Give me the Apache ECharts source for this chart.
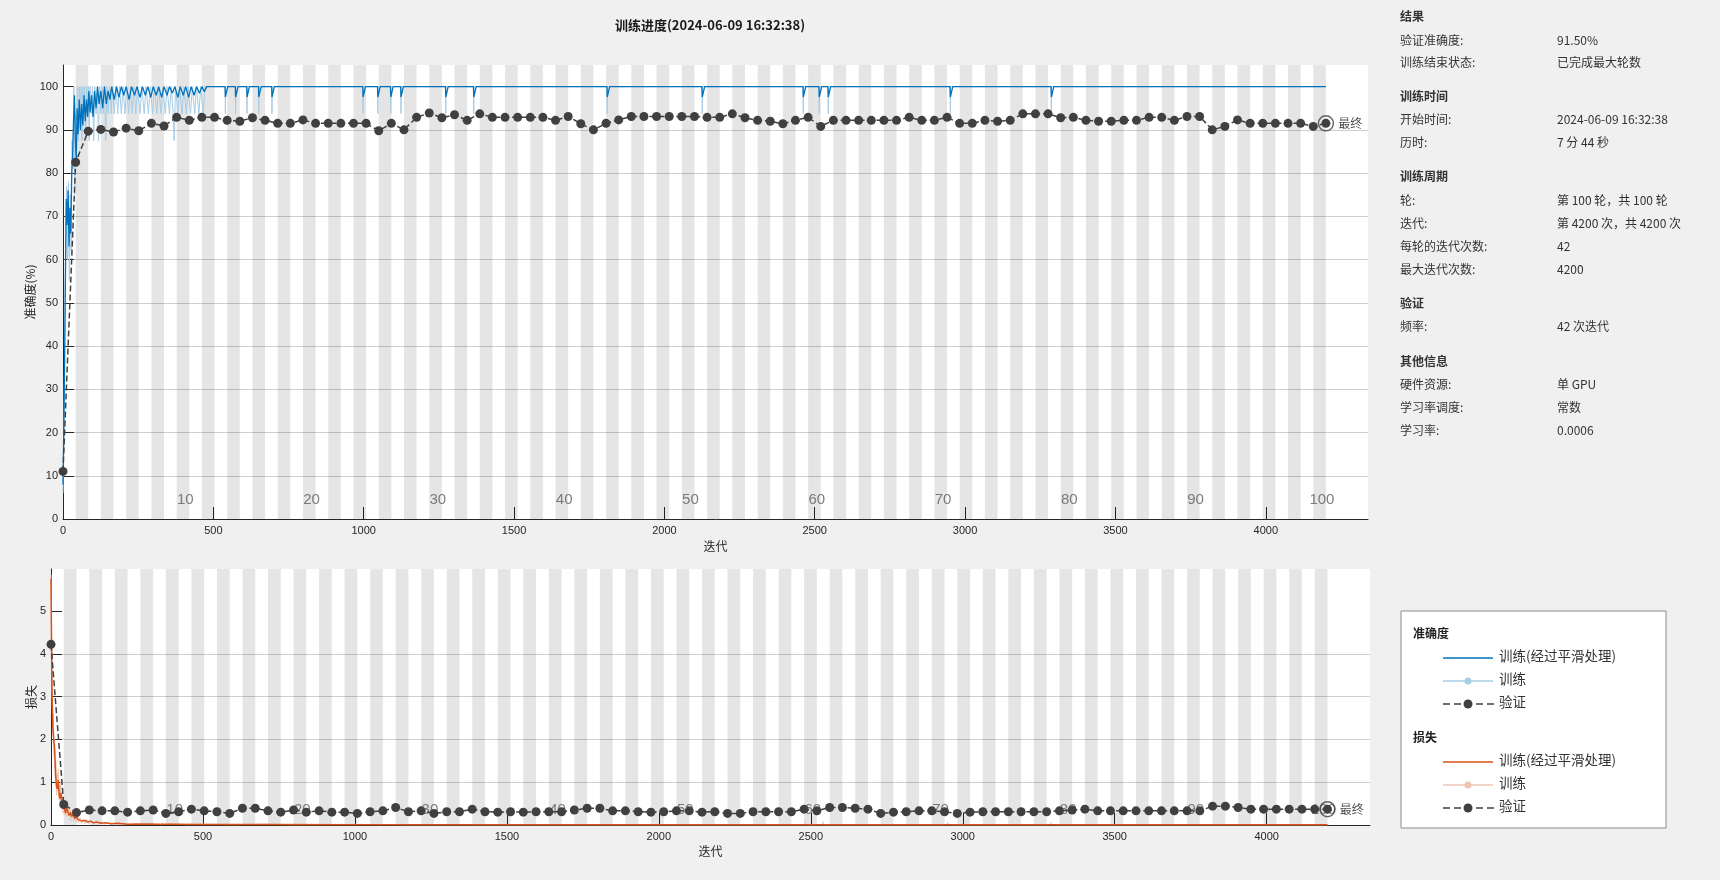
<!DOCTYPE html>
<html>
<head>
<meta charset="utf-8">
<title>训练进度</title>
<script src="https://cdn.jsdelivr.net/npm/echarts@6/dist/echarts.min.js"></script>
<style>
  html, body { margin: 0; padding: 0; background: #f0f0f0; }
  #main { width: 1720px; height: 880px; }
</style>
</head>
<body>
<div id="main"></div>
<script>
// 每轮迭代次数 / 轮数
const itersPerEpoch = 42
const epochCount = 100
const epochTicks = [10, 20, 30, 40, 50, 60, 70, 80, 90, 100]
const iterTicks = [0, 500, 1000, 1500, 2000, 2500, 3000, 3500, 4000]
const accTicks = [0, 10, 20, 30, 40, 50, 60, 70, 80, 90, 100]
const lossTicks = [0, 1, 2, 3, 4, 5]

// 验证准确度 (第 0..100 轮)
const valAcc = [11, 82.5, 89.7, 90.1, 89.5, 90.4, 89.8, 91.5, 90.9, 92.9,
  92.2, 92.9, 92.9, 92.2, 92.0, 92.8, 92.2, 91.5, 91.5, 92.3,
  91.5, 91.5, 91.5, 91.5, 91.5, 89.8, 91.5, 90.0, 92.9, 93.9,
  92.8, 93.5, 92.2, 93.7, 92.9, 92.9, 92.9, 92.9, 92.9, 92.2,
  93.1, 91.4, 90.0, 91.5, 92.3, 93.1, 93.1, 93.1, 93.1, 93.1,
  93.1, 92.9, 92.9, 93.7, 92.8, 92.2, 92.0, 91.4, 92.2, 92.9,
  90.8, 92.2, 92.2, 92.2, 92.2, 92.2, 92.2, 92.9, 92.2, 92.2,
  92.9, 91.5, 91.5, 92.2, 92.0, 92.2, 93.7, 93.7, 93.7, 92.8,
  92.9, 92.2, 92.0, 92.0, 92.2, 92.2, 92.9, 92.9, 92.2, 93.1,
  93.1, 90.0, 90.8, 92.3, 91.5, 91.5, 91.5, 91.5, 91.5, 90.8, 91.5]

// 验证损失 (第 0..100 轮)
const valLoss = [4.22, 0.48, 0.29, 0.35, 0.33, 0.33, 0.30, 0.33, 0.35, 0.27,
  0.31, 0.37, 0.33, 0.31, 0.27, 0.39, 0.39, 0.33, 0.30, 0.35,
  0.30, 0.33, 0.30, 0.30, 0.27, 0.31, 0.33, 0.41, 0.31, 0.33,
  0.27, 0.31, 0.31, 0.37, 0.31, 0.30, 0.31, 0.30, 0.31, 0.31,
  0.31, 0.35, 0.39, 0.39, 0.33, 0.33, 0.31, 0.30, 0.31, 0.33,
  0.33, 0.30, 0.31, 0.27, 0.27, 0.31, 0.31, 0.31, 0.31, 0.37,
  0.33, 0.41, 0.41, 0.39, 0.37, 0.27, 0.30, 0.31, 0.33, 0.33,
  0.31, 0.27, 0.30, 0.31, 0.31, 0.31, 0.31, 0.31, 0.31, 0.33,
  0.35, 0.37, 0.33, 0.33, 0.33, 0.33, 0.33, 0.33, 0.33, 0.33,
  0.33, 0.44, 0.44, 0.41, 0.37, 0.37, 0.37, 0.37, 0.37, 0.37, 0.37]

// 训练准确度(经过平滑处理) [迭代, 值]
const accSmooth = [[0, 8], [4, 28], [8, 55], [11, 74], [14, 68], [17, 76], [20, 63], [23, 72], [26, 66],
  [29, 80], [32, 84], [35, 92], [38, 98], [41, 88], [44, 83], [47, 95], [50, 89], [54, 97], [58, 90],
  [62, 96], [66, 91], [70, 98], [74, 92], [78, 97], [82, 93], [86, 99], [90, 94], [95, 98], [100, 93],
  [105, 99], [110, 95], [115, 100], [120, 96], [126, 99], [132, 95], [138, 100], [144, 96], [150, 99],
  [156, 97], [162, 100], [170, 97], [178, 100], [186, 97.5], [194, 100], [202, 98], [210, 100],
  [220, 97], [228, 100], [238, 98], [246, 100], [256, 97.5], [264, 100], [274, 98], [282, 100],
  [292, 97.5], [300, 100], [310, 98], [318, 100], [328, 97.5], [336, 100], [346, 98], [354, 100],
  [364, 98.5], [372, 100], [382, 97.5], [390, 100], [400, 98], [408, 100], [418, 97.5], [426, 100],
  [436, 98], [444, 100], [454, 98.5], [462, 100], [470, 98.8], [478, 100],
  [539, 100], [540, 97.6], [548, 100], [573, 100], [574, 97.6], [582, 100],
  [611, 100], [612, 97.6], [620, 100], [650, 100], [651, 97.6], [659, 100],
  [694, 100], [695, 97.6], [703, 100], [997, 100], [998, 97.6], [1006, 100],
  [1046, 100], [1047, 97.6], [1055, 100], [1089, 100], [1090, 97.6], [1098, 100],
  [1123, 100], [1124, 97.6], [1132, 100], [1272, 100], [1273, 97.6], [1281, 100],
  [1365, 100], [1366, 97.6], [1374, 100], [1809, 100], [1810, 97.6], [1818, 100],
  [2125, 100], [2126, 97.6], [2134, 100], [2461, 100], [2462, 97.6], [2470, 100],
  [2514, 100], [2515, 97.6], [2523, 100], [2544, 100], [2545, 97.6], [2553, 100],
  [2950, 100], [2951, 97.6], [2959, 100], [3286, 100], [3287, 97.6], [3295, 100],
  [4200, 100]]

// 训练准确度 (原始) [迭代, 值]
const accRaw = [[0, 6], [3, 18], [6, 42], [9, 70], [12, 77], [15, 60], [18, 78], [21, 55], [24, 75],
  [27, 62], [30, 87.5], [33, 81], [36, 100], [39, 75], [42, 93.75], [45, 87.5], [48, 100], [51, 87.5],
  [54, 100], [57, 90.6], [60, 100], [63, 87.5], [66, 100], [69, 93.75], [72, 100], [75, 87.5], [78, 100],
  [81, 93.75], [84, 100], [87, 87.5], [90, 100], [94, 93.75], [98, 100], [102, 87.5], [106, 100],
  [110, 93.75], [114, 100], [118, 87.5], [122, 100], [126, 93.75], [130, 100], [134, 93.75], [138, 100],
  [142, 87.5], [146, 100], [150, 93.75], [155, 100], [160, 93.75], [165, 100], [170, 93.75], [176, 100],
  [182, 93.75], [188, 100], [194, 93.75], [200, 100], [206, 93.75], [212, 100], [218, 93.75], [224, 100],
  [230, 93.75], [236, 100], [242, 93.75], [248, 100], [256, 93.75], [262, 100], [270, 93.75], [276, 100],
  [284, 93.75], [290, 100], [298, 93.75], [304, 100], [312, 93.75], [318, 100], [326, 93.75], [332, 100],
  [340, 93.75], [346, 100], [354, 93.75], [360, 100], [366, 93.75], [370, 87.5], [374, 100], [382, 93.75],
  [388, 100], [396, 93.75], [402, 100], [410, 93.75], [416, 100], [424, 93.75], [430, 100], [438, 93.75],
  [444, 100], [452, 93.75], [458, 100], [466, 93.75], [472, 100],
  [539, 100], [540, 93.75], [541, 100], [573, 100], [574, 93.75], [575, 100],
  [611, 100], [612, 93.75], [613, 100], [650, 100], [651, 93.75], [652, 100],
  [694, 100], [695, 93.75], [696, 100], [997, 100], [998, 93.75], [999, 100],
  [1046, 100], [1047, 93.75], [1048, 100], [1089, 100], [1090, 93.75], [1091, 100],
  [1123, 100], [1124, 93.75], [1125, 100], [1272, 100], [1273, 93.75], [1274, 100],
  [1365, 100], [1366, 93.75], [1367, 100], [1809, 100], [1810, 93.75], [1811, 100],
  [2125, 100], [2126, 93.75], [2127, 100], [2461, 100], [2462, 93.75], [2463, 100],
  [2514, 100], [2515, 93.75], [2516, 100], [2544, 100], [2545, 93.75], [2546, 100],
  [2950, 100], [2951, 93.75], [2952, 100], [3286, 100], [3287, 93.75], [3288, 100],
  [4200, 100]]

// 训练损失(经过平滑处理) [迭代, 值]
const lossSmooth = [[0, 5.75], [3, 3.2], [6, 2.3], [9, 2.0], [12, 1.75], [15, 1.2], [18, 0.9], [21, 0.85],
  [24, 1.05], [27, 0.7], [30, 0.62], [33, 0.75], [36, 0.5], [40, 0.45], [44, 0.38], [48, 0.28], [52, 0.4],
  [56, 0.3], [60, 0.22], [64, 0.3], [68, 0.2], [72, 0.25], [78, 0.15], [84, 0.2], [90, 0.12], [96, 0.15],
  [104, 0.09], [112, 0.11], [120, 0.07], [130, 0.09], [140, 0.05], [150, 0.07], [165, 0.04], [180, 0.05],
  [200, 0.03], [220, 0.04], [250, 0.02], [300, 0.025], [350, 0.015], [400, 0.02], [500, 0.01],
  [700, 0.012], [1000, 0.005], [2500, 0.004], [4200, 0.003]]

// 训练损失 (原始) [迭代, 值]
const lossRaw = [[0, 5.85], [2, 4.5], [4, 3.0], [6, 2.1], [8, 2.6], [10, 1.6], [12, 2.0], [14, 1.1],
  [16, 1.5], [18, 0.7], [20, 1.2], [22, 0.8], [24, 1.3], [26, 0.6], [28, 0.9], [30, 0.5], [32, 1.0],
  [34, 0.4], [36, 0.7], [38, 0.3], [40, 0.6], [43, 0.25], [46, 0.5], [49, 0.2], [52, 0.55], [55, 0.2],
  [58, 0.4], [61, 0.12], [64, 0.35], [67, 0.1], [70, 0.3], [74, 0.08], [78, 0.25], [82, 0.06], [86, 0.2],
  [90, 0.05], [95, 0.18], [100, 0.04], [106, 0.14], [112, 0.03], [118, 0.12], [125, 0.03], [132, 0.1],
  [140, 0.02], [148, 0.09], [156, 0.02], [165, 0.07], [175, 0.01], [185, 0.06], [195, 0.01], [210, 0.05],
  [225, 0.01], [240, 0.04], [260, 0.01], [280, 0.035], [300, 0.01], [330, 0.03], [360, 0.005],
  [400, 0.03], [450, 0.005], [500, 0.02], [600, 0.005], [700, 0.02], [800, 0.004], [1000, 0.015],
  [1200, 0.004], [2479, 0.003], [2480, 0.1], [2481, 0.003], [2539, 0.003], [2540, 0.08], [2541, 0.003],
  [2949, 0.003], [2950, 0.07], [2951, 0.003], [3289, 0.003], [3290, 0.06], [3291, 0.003], [4200, 0.003]]

// 右侧信息面板
const infoRows = [
  ['结果', ''], ['验证准确度:', '91.50%'], ['训练结束状态:', '已完成最大轮数'],
  ['训练时间', ''], ['开始时间:', '2024-06-09 16:32:38'], ['历时:', '7 分 44 秒'],
  ['训练周期', ''], ['轮:', '第 100 轮，共 100 轮'], ['迭代:', '第 4200 次，共 4200 次'],
  ['每轮的迭代次数:', '42'], ['最大迭代次数:', '4200'],
  ['验证', ''], ['频率:', '42 次迭代'],
  ['其他信息', ''], ['硬件资源:', '单 GPU'], ['学习率调度:', '常数'], ['学习率:', '0.0006']
]
const infoY = [18, 42, 64, 98, 121, 144, 178, 202, 225, 248, 271, 305, 328, 363, 386, 409, 432]

const FONT_CJK = '"Noto Sans CJK SC", sans-serif'
const FONT_NUM = '"Liberation Sans", "Noto Sans CJK SC", sans-serif'
const AXIS_COLOR = '#262626'
const VAL_COLOR = '#404040'

let myChart = echarts.init(document.getElementById('main'), null, { renderer: 'canvas' })

// 偶数轮的灰色背景条
let bands = []
for (let e = 2; e <= epochCount; e += 2) {
  bands.push([{ xAxis: (e - 1) * itersPerEpoch }, { xAxis: e * itersPerEpoch }])
}

function xAxisOf (grid) {
  return {
    gridIndex: grid,
    type: 'value',
    min: 0,
    max: 4340,
    axisLine: { show: true, onZero: false, lineStyle: { color: AXIS_COLOR, width: 1 } },
    axisTick: { show: true, inside: true, length: 12, customValues: iterTicks, lineStyle: { color: AXIS_COLOR } },
    axisLabel: {
      customValues: iterTicks,
      formatter: v => String(v),
      fontSize: 11,
      color: AXIS_COLOR,
      margin: 6,
      fontFamily: FONT_NUM
    },
    splitLine: { show: false },
    name: '迭代',
    nameLocation: 'middle',
    nameGap: grid === 0 ? 21 : 20,
    nameTextStyle: { fontSize: 12, color: AXIS_COLOR, fontFamily: FONT_CJK }
  }
}

function yAxisOf (grid, max, interval, ticks, name, gap) {
  return {
    gridIndex: grid,
    type: 'value',
    min: 0,
    max: max,
    interval: interval,
    axisLine: { show: true, lineStyle: { color: AXIS_COLOR, width: 1 } },
    axisTick: { show: true, inside: true, length: 11, customValues: ticks, lineStyle: { color: AXIS_COLOR } },
    axisLabel: { customValues: ticks, formatter: v => String(v), fontSize: 11, color: AXIS_COLOR, margin: 5, fontFamily: FONT_NUM },
    splitLine: { show: true, showMaxLine: false, lineStyle: { color: '#cfcfcf', width: 1 } },
    name: name,
    nameLocation: 'middle',
    nameGap: gap,
    nameMoveOverlap: false,
    nameTextStyle: { fontSize: 12, color: AXIS_COLOR, fontFamily: FONT_CJK }
  }
}

function epochLabelSeries (grid, dy) {
  return {
    type: 'scatter',
    xAxisIndex: grid,
    yAxisIndex: grid,
    silent: true,
    z: 2,
    symbolSize: 1,
    itemStyle: { color: 'transparent' },
    data: epochTicks.map(e => [e * itersPerEpoch, 0, e]),
    label: {
      show: true,
      position: 'inside',
      offset: [-4, dy],
      formatter: p => String(p.value[2]),
      fontSize: 15,
      color: '#5e5e5e',
      fontFamily: FONT_NUM
    }
  }
}

function finalSeries (grid, value) {
  return {
    type: 'scatter',
    xAxisIndex: grid,
    yAxisIndex: grid,
    z: 7,
    symbol: 'circle',
    symbolSize: 15,
    itemStyle: { color: 'rgba(255,255,255,0)', borderColor: VAL_COLOR, borderWidth: 1.5 },
    data: [[epochCount * itersPerEpoch, value]],
    label: { show: true, position: 'right', distance: 4, formatter: '最终', fontSize: 12, color: AXIS_COLOR, fontFamily: FONT_CJK }
  }
}

// 右侧面板与图例的文字
let graphics = []
infoRows.forEach((row, i) => {
  let bold = row[1] === ''
  graphics.push({
    type: 'text', left: 1400, top: infoY[i] - 8,
    style: { text: row[0], fill: '#333', font: (bold ? 'bold ' : '') + '12px ' + FONT_CJK }
  })
  if (!bold) {
    graphics.push({
      type: 'text', left: 1557, top: infoY[i] - 8,
      style: { text: row[1], fill: '#333', font: '12px ' + FONT_CJK }
    })
  }
})

// 图例框
graphics.push({
  type: 'rect', shape: { x: 1401, y: 611, width: 265, height: 217 },
  style: { fill: '#fff', stroke: '#8c8c8c', lineWidth: 1 }
})
const legendGroups = [
  { title: '准确度', y: 635, smooth: '#0072bd', raw: '#a8cde6' },
  { title: '损失', y: 739, smooth: '#d95319', raw: '#eec5b4' }
]
legendGroups.forEach(g => {
  graphics.push({ type: 'text', left: 1413, top: g.y - 8, style: { text: g.title, fill: '#222', font: 'bold 12px ' + FONT_CJK } })
  let rows = [
    { y: g.y + 23, text: '训练(经过平滑处理)' },
    { y: g.y + 46, text: '训练' },
    { y: g.y + 69, text: '验证' }
  ]
  graphics.push({ type: 'line', shape: { x1: 1443, y1: rows[0].y, x2: 1493, y2: rows[0].y }, style: { stroke: g.smooth, lineWidth: 1.6 } })
  graphics.push({ type: 'line', shape: { x1: 1443, y1: rows[1].y, x2: 1493, y2: rows[1].y }, style: { stroke: g.raw, lineWidth: 1.4 } })
  graphics.push({ type: 'circle', shape: { cx: 1468, cy: rows[1].y, r: 3.5 }, style: { fill: g.raw } })
  graphics.push({ type: 'line', shape: { x1: 1443, y1: rows[2].y, x2: 1496, y2: rows[2].y }, style: { stroke: VAL_COLOR, lineWidth: 1.5, lineDash: [7, 4] } })
  graphics.push({ type: 'circle', shape: { cx: 1468, cy: rows[2].y, r: 4.5 }, style: { fill: VAL_COLOR } })
  rows.forEach(r => {
    graphics.push({ type: 'text', left: 1499, top: r.y - 9, style: { text: r.text, fill: '#333', font: '13.5px ' + FONT_CJK } })
  })
})

myChart.setOption({
  backgroundColor: '#f0f0f0',
  animation: false,
  title: {
    text: '训练进度(2024-06-09 16:32:38)',
    left: 705,
    top: 14,
    textAlign: 'center',
    textStyle: { fontSize: 13, fontWeight: 'bold', color: '#1a1a1a', fontFamily: FONT_CJK }
  },
  grid: [
    { left: 63, top: 65, width: 1305, height: 454, show: true, backgroundColor: '#fff', borderWidth: 0 },
    { left: 51, top: 569, width: 1319, height: 256, show: true, backgroundColor: '#fff', borderWidth: 0 }
  ],
  xAxis: [xAxisOf(0), xAxisOf(1)],
  yAxis: [
    yAxisOf(0, 105, 10, accTicks, '准确度(%)', 27),
    yAxisOf(1, 5.98, 1, lossTicks, '损失', 14)
  ],
  graphic: graphics,
  series: [
    {
      type: 'line', xAxisIndex: 0, yAxisIndex: 0, data: [], z: 1, silent: true,
      markArea: { silent: true, itemStyle: { color: 'rgba(0,0,0,0.1)' }, data: bands }
    },
    {
      type: 'line', xAxisIndex: 1, yAxisIndex: 1, data: [], z: 1, silent: true,
      markArea: { silent: true, itemStyle: { color: 'rgba(0,0,0,0.1)' }, data: bands }
    },
    epochLabelSeries(0, -19),
    epochLabelSeries(1, -15),
    {
      name: '训练', type: 'line', xAxisIndex: 0, yAxisIndex: 0, z: 3,
      showSymbol: false, data: accRaw,
      lineStyle: { color: '#a8cde6', width: 1 }
    },
    {
      name: '训练(经过平滑处理)', type: 'line', xAxisIndex: 0, yAxisIndex: 0, z: 4,
      showSymbol: false, data: accSmooth,
      lineStyle: { color: '#0072bd', width: 1.3 }
    },
    {
      name: '验证', type: 'line', xAxisIndex: 0, yAxisIndex: 0, z: 5,
      symbol: 'circle', symbolSize: 9, showAllSymbol: true,
      data: valAcc.map((v, i) => [i * itersPerEpoch, v]),
      itemStyle: { color: VAL_COLOR },
      lineStyle: { color: VAL_COLOR, width: 1.5, type: [6, 3] }
    },
    finalSeries(0, valAcc[valAcc.length - 1]),
    {
      name: '训练', type: 'line', xAxisIndex: 1, yAxisIndex: 1, z: 3,
      showSymbol: false, data: lossRaw,
      lineStyle: { color: '#eec5b4', width: 1 }
    },
    {
      name: '训练(经过平滑处理)', type: 'line', xAxisIndex: 1, yAxisIndex: 1, z: 4,
      showSymbol: false, data: lossSmooth,
      lineStyle: { color: '#d95319', width: 1.5 }
    },
    {
      name: '验证', type: 'line', xAxisIndex: 1, yAxisIndex: 1, z: 5,
      symbol: 'circle', symbolSize: 9, showAllSymbol: true,
      data: valLoss.map((v, i) => [i * itersPerEpoch, v]),
      itemStyle: { color: VAL_COLOR },
      lineStyle: { color: VAL_COLOR, width: 1.5, type: [6, 3] }
    },
    finalSeries(1, valLoss[valLoss.length - 1])
  ]
})
</script>
</body>
</html>
